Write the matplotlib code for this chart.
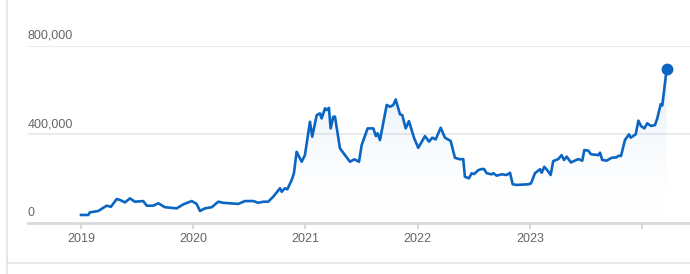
import numpy as np
import matplotlib
matplotlib.use("Agg")
import matplotlib.pyplot as plt
from matplotlib.lines import Line2D
from matplotlib.colors import LinearSegmentedColormap

plt.rcParams['font.family'] = ['Liberation Sans', 'DejaVu Sans']

# time as fractional year
years = [2019.000, 2019.065, 2019.080, 2019.154, 2019.229, 2019.267, 2019.318, 2019.348,
         2019.392, 2019.437, 2019.481, 2019.555, 2019.586, 2019.644, 2019.689, 2019.749,
         2019.853, 2019.912, 2019.987, 2020.031, 2020.061, 2020.105, 2020.165, 2020.224,
         2020.268, 2020.402, 2020.462, 2020.536, 2020.580, 2020.625, 2020.669, 2020.714,
         2020.774, 2020.789, 2020.818, 2020.839, 2020.878, 2020.898, 2020.922, 2020.967,
         2020.996, 2021.041, 2021.061, 2021.101, 2021.130, 2021.145, 2021.175, 2021.190,
         2021.210, 2021.225, 2021.249, 2021.264, 2021.308, 2021.353, 2021.398, 2021.436,
         2021.478, 2021.502, 2021.555, 2021.605, 2021.629, 2021.644, 2021.665, 2021.725,
         2021.754, 2021.784, 2021.805, 2021.843, 2021.864, 2021.894, 2021.923, 2021.968,
         2022.006, 2022.066, 2022.102, 2022.131, 2022.161, 2022.206, 2022.244, 2022.295,
         2022.333, 2022.378, 2022.407, 2022.422, 2022.458, 2022.482, 2022.503, 2022.541,
         2022.571, 2022.592, 2022.616, 2022.660, 2022.675, 2022.705, 2022.750, 2022.794,
         2022.824, 2022.848, 2022.884, 2022.987, 2023.011, 2023.046, 2023.091, 2023.106,
         2023.129, 2023.156, 2023.186, 2023.209, 2023.254, 2023.284, 2023.305, 2023.329,
         2023.367, 2023.432, 2023.468, 2023.486, 2023.522, 2023.545, 2023.611, 2023.626,
         2023.646, 2023.685, 2023.730, 2023.774, 2023.789, 2023.813, 2023.848, 2023.884,
         2023.899, 2023.944, 2023.968, 2023.991, 2024.021, 2024.047, 2024.080, 2024.116,
         2024.136, 2024.167, 2024.181, 2024.220]
values_k = [35, 35, 47, 53, 77, 72, 107, 103,
            92, 110, 95, 98, 77, 77, 88, 70,
            65, 83, 98, 85, 53, 65, 70, 95,
            90, 85, 98, 98, 90, 95, 95, 118,
            156, 140, 156, 151, 193, 224, 321, 276,
            306, 457, 389, 487, 495, 472, 518, 510,
            520, 427, 480, 480, 337, 306, 276, 287,
            276, 352, 427, 427, 392, 405, 374, 533,
            525, 533, 558, 491, 487, 427, 460, 385,
            339, 392, 367, 385, 377, 430, 385, 370,
            294, 287, 288, 208, 201, 224, 220, 238,
            243, 243, 224, 219, 224, 213, 219, 216,
            226, 174, 171, 174, 178, 224, 242, 226,
            253, 238, 216, 279, 288, 306, 284, 299,
            273, 288, 281, 329, 326, 310, 306, 317,
            284, 281, 294, 296, 303, 302, 374, 400,
            385, 400, 462, 438, 427, 450, 438, 442,
            472, 537, 531, 696]
values = [v * 1000 for v in values_k]

y_ticks = [0, 400000, 800000]
y_labels = ['0', '400,000', '800,000']
x_ticks = [2019, 2020, 2021, 2022, 2023, 2024]
x_labels = ['2019', '2020', '2021', '2022', '2023', '']

blue = '#0a66c2'
grey_txt = '#666666'

fig = plt.figure(figsize=(6.9, 2.74), dpi=100)
ax = fig.add_axes([28 / 690, 51.3 / 274, 1 - 28 / 690, (222.7 - 46) / 274])
ax.set_xlim(2018.528, 2024.428)
ax.set_ylim(0, 800000)

# gradient fill under the line
poly = ax.fill_between(years, values, 0, color='none', lw=0)
cmap = LinearSegmentedColormap.from_list('g', [(1, 1, 1, 0), (0.04, 0.4, 0.76, 0.13)])
grad = np.linspace(0, 1, 256).reshape(-1, 1)
img = ax.imshow(grad, cmap=cmap, aspect='auto', origin='lower',
                extent=[years[0], years[-1], 0, max(values)], zorder=1)
img.set_clip_path(poly.get_paths()[0], transform=ax.transData)

ax.plot(years, values, color=blue, lw=1.9, zorder=3, solid_joinstyle='round')
ax.plot(years[-1], values[-1], 'o', color=blue, ms=7.5, zorder=4)

# grid lines
for yt in y_ticks[1:]:
    ax.axhline(yt, color='#e6e6e6', lw=1.1, zorder=0)
ax.axhline(0, color='#d9d9d9', lw=2, zorder=2, clip_on=False)

for yt, lab in zip(y_ticks, y_labels):
    ax.annotate(lab, xy=(0, yt), xycoords=('axes fraction', 'data'),
                xytext=(0, 3), textcoords='offset points',
                ha='left', va='bottom', fontsize=9, color=grey_txt)

for s in ax.spines.values():
    s.set_visible(False)
ax.set_yticks([])
ax.set_xticks(x_ticks)
ax.set_xticklabels(x_labels, fontsize=9, color=grey_txt)
ax.tick_params(axis='x', length=4, width=1.5, color='#d9d9d9', pad=3.5)

# page frame lines
fig.add_artist(Line2D([6.5 / 690, 6.5 / 690], [0, 1], color='#e3e3e3', lw=1.2))
fig.add_artist(Line2D([6.5 / 690, 1], [11 / 274, 11 / 274], color='#e3e3e3', lw=1.2))

fig.savefig('out.png', dpi=100)
